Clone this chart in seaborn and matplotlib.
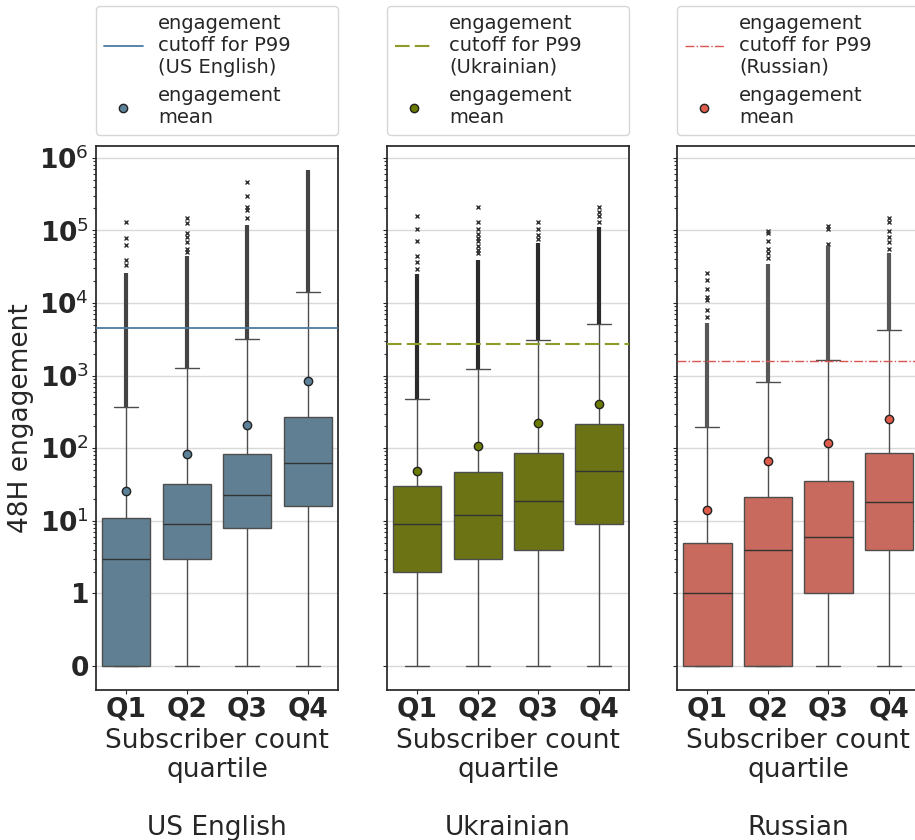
import numpy as np
import pandas as pd
import matplotlib.pyplot as plt
import seaborn as sns
from matplotlib.lines import Line2D
from matplotlib.ticker import FixedLocator

# values (48H engagement per subscriber quartile)
quartiles = ["Q1", "Q2", "Q3", "Q4"]
languages = ["US English", "Ukrainian", "Russian"]

us_q1 = [0, 3, 8, 16]
us_med = [3, 9, 23, 62]
us_q3 = [11, 32, 82, 270]
us_whi = [370, 1280, 3200, 14000]
us_mean = [26, 83, 210, 850]
us_dense = [26000, 45000, 120000, 680000]
us_fliers = [[33000, 39000, 63000, 79000, 130000],
             [50000, 56000, 68000, 82000, 92000, 126000, 150000],
             [150000, 190000, 210000, 300000, 470000],
             []]
us_p99 = 4500

uk_q1 = [2, 3, 4, 9]
uk_med = [9, 12, 19, 49]
uk_q3 = [30, 47, 87, 218]
uk_whi = [480, 1230, 3100, 5200]
uk_mean = [49, 107, 223, 405]
uk_dense = [25000, 39000, 66000, 110000]
uk_fliers = [[29000, 37000, 45000, 71000, 103000, 156000],
             [48000, 54000, 60000, 72000, 79000, 89000, 105000, 132000, 210000],
             [76000, 85000, 103000, 130000],
             [130000, 156000, 180000, 210000]]
uk_p99 = 2750

ru_q1 = [0, 0, 1, 4]
ru_med = [1, 4, 6, 18]
ru_q3 = [5, 21, 35, 86]
ru_whi = [195, 810, 1620, 4250]
ru_mean = [14, 66, 117, 256]
ru_dense = [5300, 34000, 60000, 49000]
ru_fliers = [[6400, 8100, 11000, 12000, 15600, 21000, 26000],
             [41000, 49000, 56000, 71000, 92000, 98000],
             [64000, 105000, 115000],
             [56000, 68000, 80000, 98000, 130000, 150000]]
ru_p99 = 1580

ytick_vals = [0, 1, 10, 100, 1000, 10000, 100000, 1000000]
ytick_labels = ["0", "1", r"$\mathbf{10}^{1}$", r"$\mathbf{10}^{2}$",
                r"$\mathbf{10}^{3}$", r"$\mathbf{10}^{4}$",
                r"$\mathbf{10}^{5}$", r"$\mathbf{10}^{6}$"]
minor_subs = [2, 3, 4, 5, 6, 7, 8, 9]

data = {
    "US English": (us_q1, us_med, us_q3, us_whi, us_mean, us_dense, us_fliers, us_p99),
    "Ukrainian": (uk_q1, uk_med, uk_q3, uk_whi, uk_mean, uk_dense, uk_fliers, uk_p99),
    "Russian": (ru_q1, ru_med, ru_q3, ru_whi, ru_mean, ru_dense, ru_fliers, ru_p99),
}

box_colors = {"US English": "#617f93", "Ukrainian": "#6b7314", "Russian": "#c86a5e"}
mean_colors = {"US English": "#5b8299", "Ukrainian": "#6b7a00", "Russian": "#e05c4a"}
dense_colors = {"US English": "#444444", "Ukrainian": "#2b2b2b", "Russian": "#575757"}
cut_styles = {"US English": dict(color="#4a7ba0", ls="-", lw=1.3),
              "Ukrainian": dict(color="#8f9a2a", ls=(0, (7, 2.5)), lw=1.5),
              "Russian": dict(color="#d9534f", ls="-.", lw=1.0)}

sns.set_theme(style="whitegrid", rc={"axes.edgecolor": ".15", "grid.color": ".85"})
plt.rcParams['font.family'] = ['DejaVu Sans']
plt.rcParams['mathtext.fontset'] = 'dejavusans'

# minor tick positions: 2..9 times each decade
minor_vals = [s * 10 ** d for d in range(0, 6) for s in minor_subs]

fig = plt.figure(figsize=(9.15, 8.4), dpi=100)
lefts = [0.1049, 0.423, 0.740]

for i, lang in enumerate(languages):
    q1, med, q3, whi, mean, dense, fliers, p99 = data[lang]
    ax = fig.add_axes([lefts[i], 0.1786, 0.2645, 0.6476])
    ax.set_yscale("symlog", linthresh=1, linscale=0.9)

    stats = []
    for j in range(len(quartiles)):
        stats.append(dict(med=med[j], q1=q1[j], q3=q3[j], whislo=0,
                          whishi=whi[j], fliers=fliers[j]))
    edge = "#4d4d4d"
    ax.bxp(stats, positions=range(len(quartiles)), widths=0.8,
           patch_artist=True, capwidths=0.4,
           boxprops=dict(facecolor=box_colors[lang], edgecolor=edge, lw=1),
           whiskerprops=dict(color=edge, lw=1),
           capprops=dict(color=edge, lw=1),
           medianprops=dict(color="#333333", lw=1),
           flierprops=dict(marker="x", markersize=3, markeredgecolor="#333333",
                           markeredgewidth=1))
    # the outliers are so many they merge into a solid column
    ax.vlines(range(len(quartiles)), whi, dense, colors=dense_colors[lang],
              lw=3, zorder=2)

    ax.axhline(p99, zorder=4, **cut_styles[lang])

    means = pd.DataFrame({"quartile": quartiles, "mean": mean})
    sns.stripplot(data=means, x="quartile", y="mean", jitter=False, ax=ax,
                  color=mean_colors[lang], size=6, linewidth=1,
                  edgecolor="#222222", zorder=5)

    ax.set_xlim(-0.5, 3.5)
    ax.set_ylim(-0.33, 1.45e6)
    ax.grid(axis="x", visible=False)
    ax.set_xticks(range(len(quartiles)))
    ax.set_xticklabels(quartiles, fontsize=19, fontweight="bold")
    ax.set_yticks(ytick_vals)
    ax.yaxis.set_minor_locator(FixedLocator(minor_vals))
    ax.tick_params(axis="x", bottom=True, length=3, width=0.8, pad=2)
    ax.tick_params(axis="y", which="major", left=True, length=3, width=0.8, pad=2)
    ax.tick_params(axis="y", which="minor", left=True, length=2, width=0.8,
                   color="#333333")
    if i == 0:
        ax.set_yticklabels(ytick_labels, fontsize=19, fontweight="bold")
        ax.set_ylabel("48H engagement", fontsize=19)
    else:
        ax.tick_params(axis="y", labelleft=False)
        ax.set_ylabel("")
    ax.set_xlabel("Subscriber count\nquartile\n\n" + lang, fontsize=19,
                  linespacing=1.15)

    handles = [Line2D([], [], **cut_styles[lang]),
               Line2D([], [], ls="none", marker="o", markersize=6,
                      markerfacecolor=mean_colors[lang], markeredgecolor="#222222")]
    labels = ["engagement\ncutoff for P99\n(" + lang + ")", "engagement\nmean"]
    ax.legend(handles, labels, loc="lower left", bbox_to_anchor=(0, 1.02, 1, 0.2),
              mode="expand", borderaxespad=0, fontsize=14)

fig.savefig("out.png", dpi=100)
